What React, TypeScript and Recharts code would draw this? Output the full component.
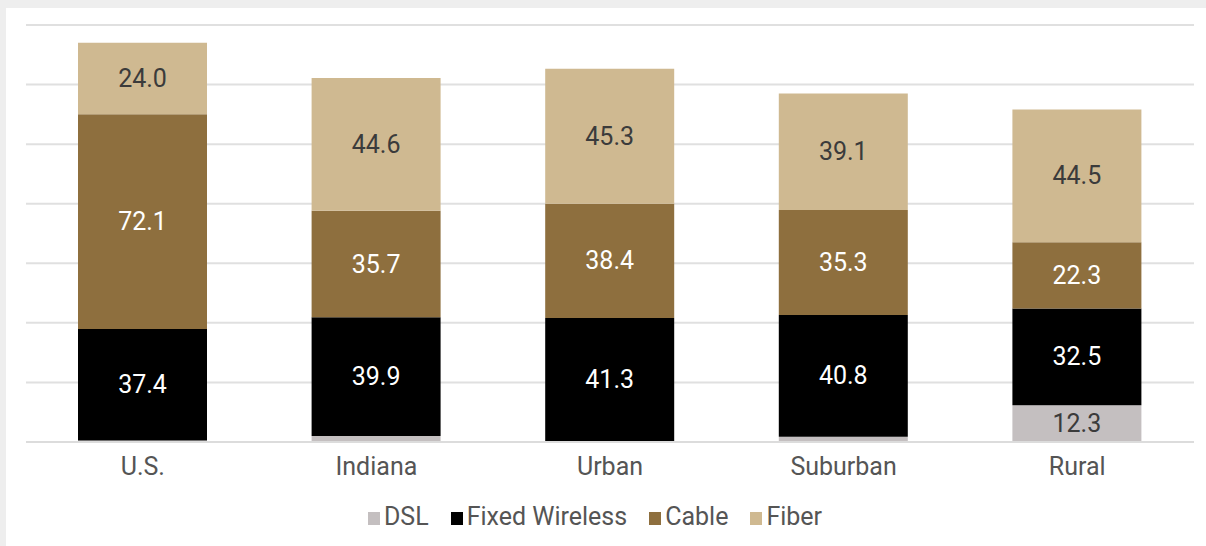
import React from "react";
import { BarChart, Bar, XAxis, YAxis, CartesianGrid, Legend, LabelList } from "recharts";

const categories = ["U.S.", "Indiana", "Urban", "Suburban", "Rural"];
const dsl = [0.5, 2.0, 0.3, 1.8, 12.3];
const fixedWireless = [37.4, 39.9, 41.3, 40.8, 32.5];
const cable = [72.1, 35.7, 38.4, 35.3, 22.3];
const fiber = [24.0, 44.6, 45.3, 39.1, 44.5];
const yTicks = [0, 20, 40, 60, 80, 100, 120, 140];

const data = categories.map((c, i) => ({
  name: c,
  dsl: dsl[i],
  fixedWireless: fixedWireless[i],
  cable: cable[i],
  fiber: fiber[i],
}));

const series = [
  { key: "dsl", name: "DSL", color: "#C4BFC0", text: "#3b3b3b" },
  { key: "fixedWireless", name: "Fixed Wireless", color: "#000000", text: "#ffffff" },
  { key: "cable", name: "Cable", color: "#8E6F3E", text: "#ffffff" },
  { key: "fiber", name: "Fiber", color: "#CFB991", text: "#3b3b3b" },
];

const FONT = "Roboto, 'Liberation Sans', sans-serif";

const makeLabel = (color: string) => (props: any) => {
  const { x, y, width, height, value } = props;
  if (value == null || value < 5) return null;
  return (
    <text
      x={x + width / 2}
      y={y + height / 2}
      textAnchor="middle"
      dominantBaseline="central"
      fill={color}
      fontSize={25}
      fontFamily={FONT}
    >
      {Number(value).toFixed(1)}
    </text>
  );
};

const Tick = (props: any) => {
  const { x, y, payload } = props;
  return (
    <text x={x} y={y + 33} textAnchor="middle" fill="#555555" fontSize={25} fontFamily={FONT}>
      {payload.value}
    </text>
  );
};

const LegendContent = () => (
  <div
    style={{
      display: "flex",
      justifyContent: "center",
      alignItems: "flex-end",
      paddingRight: 30,
      paddingTop: 8,
      fontFamily: FONT,
      fontSize: 25,
      color: "#555555",
      lineHeight: "25px",
    }}
  >
    {series.map((s, i) => (
      <div key={s.key} style={{ display: "flex", alignItems: "flex-end", marginLeft: i === 0 ? 0 : 22 }}>
        <span
          style={{
            display: "inline-block",
            width: 12,
            height: 13,
            background: s.color,
            marginRight: 4,
            marginBottom: 4,
          }}
        />
        <span>{s.name}</span>
      </div>
    ))}
  </div>
);

export default function App() {
  return (
    <div
      style={{
        position: "fixed",
        left: 0,
        top: 0,
        width: 1206,
        height: 546,
        background: "#eeeeee",
        overflow: "hidden",
      }}
    >
      <div style={{ position: "absolute", left: 6, top: 8, right: 0, bottom: 0, background: "#ffffff" }} />
      <div style={{ position: "absolute", left: 0, top: 0 }}>
        <BarChart
          width={1206}
          height={546}
          data={data}
          margin={{ top: 25, right: 12, left: 26, bottom: 0 }}
          barSize={129}
        >
          <CartesianGrid vertical={false} stroke="#e0e0e0" strokeWidth={2} />
          <XAxis
            dataKey="name"
            axisLine={{ stroke: "#dcdcdc", strokeWidth: 2 }}
            tickLine={false}
            tickSize={0}
            tickMargin={0}
            height={54}
            tick={<Tick />}
            interval={0}
          />
          <YAxis hide domain={[0, 140]} ticks={yTicks} />
          <Legend verticalAlign="bottom" height={50} content={<LegendContent />} />
          {series.map((s) => (
            <Bar key={s.key} dataKey={s.key} name={s.name} stackId="a" fill={s.color} isAnimationActive={false}>
              <LabelList dataKey={s.key} content={makeLabel(s.text)} />
            </Bar>
          ))}
        </BarChart>
      </div>
    </div>
  );
}
